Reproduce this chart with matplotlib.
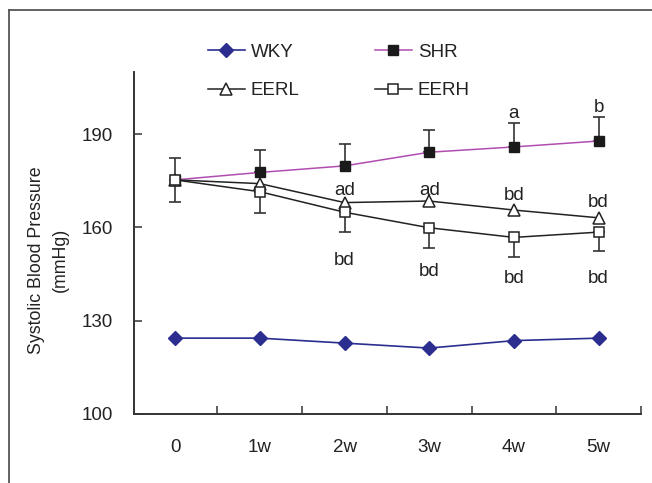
import matplotlib
matplotlib.use("Agg")
import matplotlib.pyplot as plt
from matplotlib.lines import Line2D
import numpy as np

plt.rcParams['font.family'] = ['Liberation Sans', 'DejaVu Sans']

categories = ["0", "1w", "2w", "3w", "4w", "5w"]
wky = [124.4, 124.4, 122.8, 121.2, 123.6, 124.4]
shr = [175.3, 177.7, 179.8, 184.2, 185.9, 187.8]
shr_err = [7.1, 7.2, 7.1, 7.2, 7.6, 7.8]
eerl = [175.3, 174.1, 168.0, 168.5, 165.6, 163.1]
eerh = [175.3, 171.5, 164.9, 159.9, 156.8, 158.5]
eerh_err = [7.1, 7.0, 6.5, 6.4, 6.2, 6.2]

upper_labels = [(2, 172.0, "ad"), (3, 172.0, "ad"), (4, 170.2, "bd"), (5, 168.0, "bd"),
                (4, 196.7, "a"), (5, 198.7, "b")]
lower_labels = [(2, 149.4, "bd"), (3, 145.7, "bd"), (4, 143.5, "bd"), (5, 143.5, "bd")]

FS = 13.5

fig = plt.figure(figsize=(6.52, 4.83), dpi=100)
ax = fig.add_axes([134/652, 1-414/483, (641-134)/652, (414-72)/483])

x = np.arange(len(categories))
ecol = '#333333'
ax.errorbar(x, shr, yerr=[np.zeros(6), shr_err], fmt='none', ecolor=ecol,
            elinewidth=1.2, capsize=4, capthick=1.2, zorder=1)
ax.errorbar(x, eerh, yerr=[eerh_err, np.zeros(6)], fmt='none', ecolor=ecol,
            elinewidth=1.2, capsize=4, capthick=1.2, zorder=1)

h_wky, = ax.plot(x, wky, color='#2B2E8F', lw=1.2, marker='D', ms=7.5,
                 mfc='#2B2E8F', mec='#2B2E8F', zorder=3, label='WKY')
h_shr, = ax.plot(x, shr, color='#B04DB0', lw=1.1, marker='s', ms=7.5,
                 mfc='#1a1a1a', mec='#1a1a1a', zorder=3, label='SHR')
h_eerl, = ax.plot(x, eerl, color='#222222', lw=1.1, marker='^', ms=8,
                  mfc='white', mec='#222222', mew=1.1, zorder=4, label='EERL')
h_eerh, = ax.plot(x, eerh, color='#222222', lw=1.1, marker='s', ms=7.5,
                  mfc='white', mec='#222222', mew=1.1, zorder=5, label='EERH')

for xi, yi, t in upper_labels + lower_labels:
    ax.text(xi, yi, t, ha='center', va='center', fontsize=FS, color='#222222')

ax.set_xlim(-0.485, 5.5)
ax.set_ylim(100, 210)
ax.set_yticks([100, 130, 160, 190])
ax.set_xticks(x)
ax.set_xticklabels(categories)
ax.set_xticks(np.arange(0.5, 6.0, 1.0), minor=True)
ax.tick_params(axis='x', which='major', length=0, pad=18, labelsize=FS, labelcolor='#222222')
ax.tick_params(axis='x', which='minor', direction='in', length=6, width=1.1, color='#333333')
ax.tick_params(axis='y', which='major', direction='in', length=6, width=1.1,
               color='#333333', pad=15, labelsize=FS, labelcolor='#222222')
for s in ['top', 'right']:
    ax.spines[s].set_visible(False)
for s in ['left', 'bottom']:
    ax.spines[s].set_linewidth(1.4)
    ax.spines[s].set_color('#333333')

fig.text(37/652, 1-260/483, "Systolic Blood Pressure", rotation=90, ha='center', va='center',
         fontsize=12.8, color='#222222')
fig.text(60/652, 1-260/483, "(mmHg)", rotation=90, ha='center', va='center',
         fontsize=12.8, color='#222222')

leg = fig.legend(handles=[h_wky, h_eerl, h_shr, h_eerh], ncol=2, frameon=False,
                 loc='upper left', bbox_to_anchor=(200/652, 1-36/483),
                 fontsize=FS, handlelength=2.0, handletextpad=0.3,
                 columnspacing=4.0, labelspacing=1.15, borderaxespad=0)
for t in leg.get_texts():
    t.set_color('#222222')

fig.add_artist(Line2D([9/652, 9/652], [0, 1-10/483], transform=fig.transFigure,
                      color='#555555', lw=1.3))
fig.add_artist(Line2D([9/652, 1], [1-10/483, 1-10/483], transform=fig.transFigure,
                      color='#555555', lw=1.3))

fig.savefig("out.png", dpi=100)
